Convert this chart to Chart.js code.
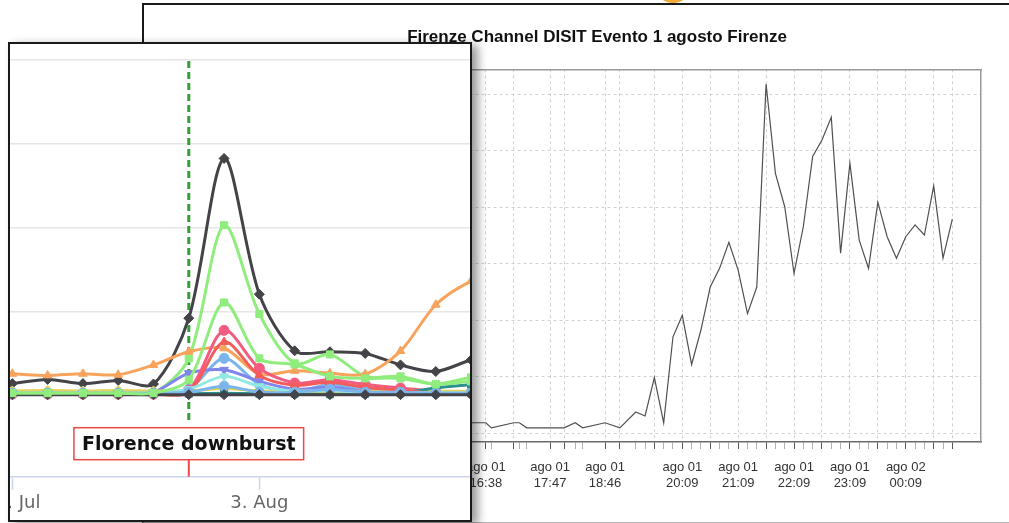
<!DOCTYPE html>
<html>
<head>
<meta charset="utf-8">
<script src="https://cdn.jsdelivr.net/npm/chart.js@4.4.1/dist/chart.umd.min.js"></script>
<style>
  html, body { margin: 0; padding: 0; background: #fff; }
  body { width: 1009px; height: 523px; position: relative; overflow: hidden; }
  #knob { position: absolute; left: 655px; top: -32px; width: 36px; height: 35px; border-radius: 50%; background: #f2a93b; }
  #back { position: absolute; left: 142px; top: 3px; width: 880px; height: 520px; box-sizing: border-box;
    border-top: 2px solid #1a1a1a; border-left: 2px solid #1a1a1a; border-bottom: 1px solid #b4b4b4; background: #fff; }
  #backChart { position: absolute; left: 142px; top: 4px; }
  #front { position: absolute; left: 8px; top: 42px; width: 464px; height: 480px; box-sizing: border-box;
    border: 2px solid #1a1a1a; background: #fff; overflow: hidden; box-shadow: 6px 3px 9px rgba(0,0,0,0.4); }
  #frontChart { position: absolute; left: -40px; top: 0; }
</style>
</head>
<body>
<div id="knob"></div>
<div id="back"></div>
<canvas id="backChart" width="867" height="518"></canvas>
<div id="front"><canvas id="frontChart" width="560" height="476"></canvas></div>
<script>
// back chart: minutes from 00:00 of 1 August
const backTimes = [975, 983, 998, 1004, 1028, 1034, 1042, 1067, 1082, 1094, 1102, 1126, 1142,
  1159, 1169, 1179, 1189, 1199, 1209, 1219, 1229, 1239, 1249, 1259, 1269, 1279, 1289, 1299, 1309,
  1319, 1329, 1339, 1349, 1359, 1369, 1379, 1389, 1399, 1409, 1419, 1429, 1439, 1449, 1459, 1469,
  1479, 1489, 1499];
const backValues = [1.0, 1.9, 1.9, 1.0, 1.9, 1.9, 1.0, 1.0, 1.0, 1.9, 1.0, 1.9, 1.0,
  3.8, 3.1, 9.9, 1.9, 17.1, 20.9, 12.2, 18.3, 25.9, 29.2, 33.8, 28.9, 21.2, 25.9, 61.8, 46.0,
  40.1, 28.3, 36.6, 49.0, 51.9, 55.9, 31.9, 47.8, 34.2, 29.2, 40.9, 34.8, 31.0, 34.8, 36.9, 35.1,
  43.8, 31.0, 37.9];
const backGridTimes = [998, 1028, 1067, 1082, 1126, 1142, 1179, 1209, 1239, 1269, 1299, 1329,
  1359, 1389, 1419, 1449, 1479, 1499];
const backLabelTimes = [998, 1067, 1126, 1209, 1269, 1329, 1389, 1449];
const backLabelDays = ['ago 01', 'ago 01', 'ago 01', 'ago 01', 'ago 01', 'ago 01', 'ago 01', 'ago 02'];
const backLabelClock = ['16:38', '17:47', '18:46', '20:09', '21:09', '22:09', '23:09', '00:09'];
const backYTicks = [0, 10, 20, 30, 40, 50, 60];

// front chart: days from 27 July
const frontTickDays = [0, 7];
const frontTickLabels = ['27. Jul', '3. Aug'];
const eventDay = 5;
const eventLabel = 'Florence downburst';

const blueA = [2.4, 2.4, 2.4, 2.4, 2.4, 7.1, 43.9, 12.9, 4.7, 12.6, 6.7, 4.7, 3.5, 3.5, 3.5];
const blackA = [13.8, 18.8, 13.8, 17.6, 13.3, 91.8, 282.4, 120.4, 52.9, 51.8, 49.8, 36.1, 28.2, 42.0, 50.0];
const greenA = [2.4, 2.4, 2.4, 2.4, 2.4, 43.9, 202.7, 96.8, 38.0, 48.6, 22.4, 22.4, 13.3, 21.2, 25.9];
const orange = [25.5, 23.5, 25.5, 24.3, 36.1, 51.8, 55.9, 25.1, 29.1, 26.2, 25.1, 52.6, 107.9, 136.1, 150.0];
const purple = [2.4, 2.4, 2.4, 2.4, 3.5, 26.2, 30.2, 16.5, 7.1, 9.4, 4.7, 3.5, 2.4, 2.4, 2.4];
const pink = [1.2, 1.2, 1.2, 1.2, 1.2, 5.9, 77.3, 32.1, 14.5, 18.5, 12.6, 8.6, 4.7, 2.4, 2.4];
const yellow = [5.0, 5.5, 5.0, 5.5, 5.0, 5.0, 8.0, 5.0, 4.7, 4.7, 4.7, 4.7, 4.7, 4.7, 4.7];
const teal = [1.8, 1.8, 1.8, 1.8, 1.8, 1.8, 2.4, 1.8, 1.8, 1.0, 1.8, 2.4, 8.6, 12.6, 16.5];
const red = [1.2, 1.2, 1.2, 1.2, 1.2, 3.5, 63.5, 23.5, 11.8, 15.3, 9.4, 5.9, 2.4, 2.4, 2.4];
const cyan = [2.7, 2.7, 2.7, 2.7, 2.7, 7.1, 22.4, 10.6, 4.7, 5.9, 2.9, 2.9, 2.9, 2.9, 2.9];
const blueB = [2.4, 2.4, 2.4, 2.4, 2.4, 3.5, 10.6, 3.5, 3.5, 7.1, 3.5, 3.5, 2.4, 2.4, 2.4];
const blackB = [0.6, 0.6, 0.6, 0.6, 0.6, 0.6, 0.6, 0.6, 0.6, 0.6, 0.6, 0.6, 0.6, 0.6, 0.6];
const greenB = [2.4, 2.4, 2.4, 2.4, 2.4, 18.5, 110.6, 43.9, 36.5, 22.4, 20.0, 20.0, 12.9, 16.5, 18.8];

const frontSeries = [blueA, blackA, greenA, orange, purple, pink, yellow, teal, red, cyan, blueB, blackB, greenB];
const frontColors = ['#7cb5ec', '#434348', '#90ed7d', '#f7a35c', '#8085e9', '#f15c80', '#e4d354',
  '#2b908f', '#f45b5b', '#91e8e1', '#7cb5ec', '#434348', '#90ed7d'];
const frontMarkers = ['circle', 'rectRot', 'rect', 'triangle', 'triangle', 'circle', 'rectRot',
  'rect', 'triangle', 'triangle', 'circle', 'rectRot', 'rect'];
const frontRotation = [0, 0, 0, 0, 180, 0, 0, 0, 0, 180, 0, 0, 0];

const tickTimes = [...new Set(backTimes.concat(backGridTimes))].sort((a, b) => a - b);
const isGrid = (v) => backGridTimes.includes(v);

new Chart(document.getElementById('backChart'), {
  type: 'line',
  data: {
    datasets: [{
      data: backTimes.map((t, i) => ({ x: t, y: backValues[i] })),
      borderColor: '#505050',
      borderWidth: 1.2,
      pointRadius: 0,
      tension: 0,
    }],
  },
  options: {
    responsive: false,
    animation: false,
    layout: { padding: { left: 71, right: 28, top: 0, bottom: 20 } },
    plugins: {
      legend: { display: false },
      tooltip: { enabled: false },
      title: {
        display: true,
        text: 'Firenze Channel DISIT Evento 1 agosto Firenze',
        color: '#111',
        font: { family: 'Liberation Sans', size: 17, weight: 'bold' },
        padding: { top: 23.3, bottom: 21.6 },
      },
    },
    scales: {
      x: {
        type: 'linear',
        min: 715.7,
        max: 1529.8,
        afterBuildTicks: (s) => { s.ticks = tickTimes.map((v) => ({ value: v })); },
        afterFit: (s) => { s.height = 60; },
        grid: {
          color: (c) => (c.tick && isGrid(c.tick.value) ? '#d2d2d2' : 'transparent'),
          tickColor: (c) => (c.tick && isGrid(c.tick.value) ? '#555' : '#b0b0b0'),
          tickLength: 7,
          lineWidth: 1,
        },
        border: { color: '#6a6a6a', width: 1.5, dash: [3, 3] },
        ticks: {
          autoSkip: false,
          maxRotation: 0,
          padding: 11,
          color: '#333',
          font: { family: 'Liberation Sans', size: 13 },
          callback: (v) => {
            const i = backLabelTimes.indexOf(v);
            return i < 0 ? '' : [backLabelDays[i], backLabelClock[i]];
          },
        },
      },
      y: {
        min: -1.5,
        max: 64.4,
        afterBuildTicks: (s) => { s.ticks = backYTicks.map((v) => ({ value: v })); },
        grid: { color: '#d2d2d2', tickLength: 10, tickColor: 'transparent' },
        border: { color: '#999', width: 1.5, dash: [3, 3] },
        ticks: { display: false },
      },
      x2: {
        type: 'linear',
        position: 'top',
        grid: { display: false, drawTicks: false },
        ticks: { display: false },
        border: { color: '#999', width: 1.5 },
      },
      y2: {
        type: 'linear',
        position: 'right',
        grid: { display: false, drawTicks: false },
        ticks: { display: false },
        border: { color: '#999', width: 1.5 },
      },
    },
  },
});

// dashed event line behind the series, label box in front
const downburstMarker = {
  id: 'downburstMarker',
  beforeDatasetsDraw(chart) {
    const { ctx, chartArea, scales } = chart;
    const x = scales.x.getPixelForValue(eventDay);
    ctx.save();
    ctx.strokeStyle = '#33a033';
    ctx.lineWidth = 3;
    ctx.setLineDash([7, 4]);
    ctx.beginPath();
    ctx.moveTo(x, chartArea.top + 11);
    ctx.lineTo(x, chartArea.bottom - 54);
    ctx.stroke();
    ctx.restore();
  },
  afterDatasetsDraw(chart) {
    const { ctx, chartArea, scales } = chart;
    const x = scales.x.getPixelForValue(eventDay);
    ctx.save();
    ctx.font = 'bold 19px "DejaVu Sans"';
    const w = ctx.measureText(eventLabel).width + 16;
    const h = 32;
    const yb = chartArea.bottom - 17;
    ctx.fillStyle = '#fff';
    ctx.fillRect(x - w / 2, yb - h, w, h);
    ctx.strokeStyle = '#f04848';
    ctx.lineWidth = 1.5;
    ctx.strokeRect(x - w / 2, yb - h, w, h);
    ctx.lineWidth = 2;
    ctx.beginPath();
    ctx.moveTo(x, yb);
    ctx.lineTo(x, chartArea.bottom);
    ctx.stroke();
    ctx.fillStyle = '#111';
    ctx.textAlign = 'center';
    ctx.textBaseline = 'middle';
    ctx.fillText(eventLabel, x, yb - h / 2 + 1);
    ctx.restore();
  },
};

new Chart(document.getElementById('frontChart'), {
  type: 'line',
  data: {
    datasets: frontSeries.map((values, i) => ({
      data: values.map((v, d) => ({ x: d, y: v })),
      borderColor: frontColors[i],
      backgroundColor: frontColors[i],
      borderWidth: 3,
      pointStyle: frontMarkers[i],
      pointRotation: frontRotation[i],
      pointRadius: 5,
      pointBorderWidth: 1,
      tension: 0.3,
      order: -i,
    })),
  },
  options: {
    responsive: false,
    animation: false,
    layout: { padding: { left: 7.07, right: 3.7, top: 0, bottom: 0 } },
    plugins: { legend: { display: false }, tooltip: { enabled: false } },
    scales: {
      x: {
        type: 'linear',
        min: -1,
        max: 14.5,
        afterBuildTicks: (s) => { s.ticks = frontTickDays.map((v) => ({ value: v })); },
        afterFit: (s) => { s.height = 43.3; },
        grid: { drawOnChartArea: false, tickLength: 13, tickColor: '#ccd6eb', tickWidth: 1.5 },
        border: { color: '#ccd6eb', width: 1.5 },
        ticks: {
          autoSkip: false,
          maxRotation: 0,
          padding: 3,
          color: '#666',
          font: { family: 'DejaVu Sans', size: 18 },
          callback: (v) => {
            const i = frontTickDays.indexOf(v);
            return i < 0 ? '' : frontTickLabels[i];
          },
        },
      },
      y: {
        min: -97.3,
        max: 411.8,
        afterBuildTicks: (s) => { s.ticks = [0, 100, 200, 300, 400].map((v) => ({ value: v })); },
        grid: { color: '#e6e6e6', lineWidth: 1.5, drawTicks: false },
        border: { display: false },
        ticks: { display: false },
      },
    },
  },
  plugins: [downburstMarker],
});
</script>
</body>
</html>
